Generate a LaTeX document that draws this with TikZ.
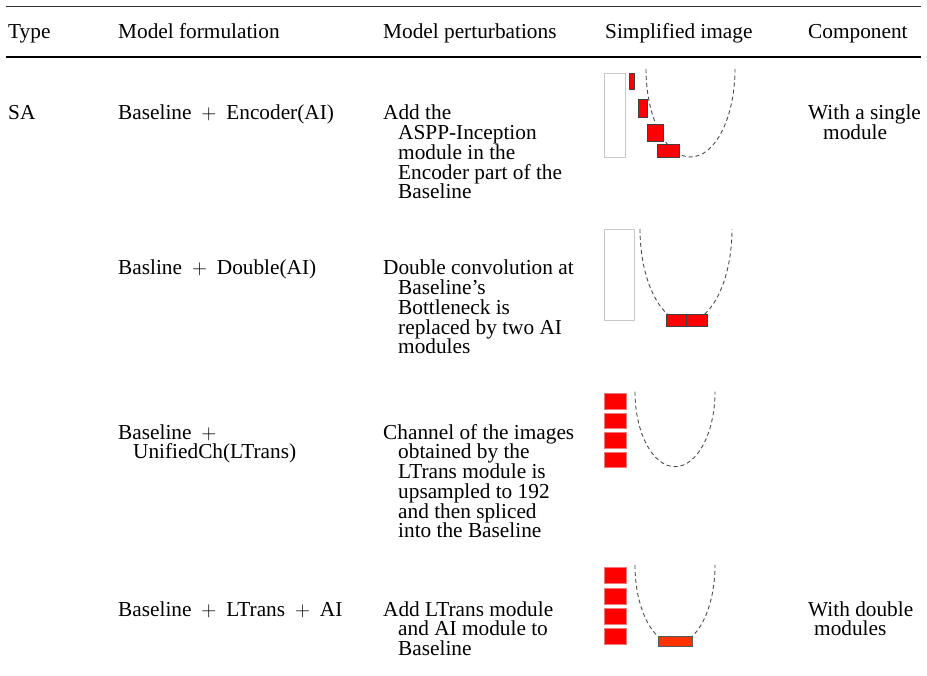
\documentclass[tikz,border=0pt]{standalone}
\usepackage{fontspec}
\setmainfont{Liberation Serif}
\definecolor{sqb}{HTML}{F07878}
\definecolor{orng}{HTML}{FF3300}
\newcommand{\ind}{\hspace*{15pt}}
\newcommand{\cellt}[1]{\vtop{\baselineskip=19.75pt\lineskiplimit=-100pt\lineskip=0pt\halign{##\hfil\cr#1\crcr}}}
\begin{document}
\begin{tikzpicture}[x=1pt,y=-1pt,
  txt/.style={anchor=base west, inner sep=0pt, font=\fontsize{21.3}{19.75}\selectfont},
  wbox/.style={fill=white, draw=black!22, line width=0.8pt},
  rbox/.style={fill=red, draw=black!75, line width=0.6pt},
  sqbox/.style={fill=red, draw=sqb, line width=0.8pt},
  obox/.style={fill=orng, draw=black!65, line width=0.8pt},
  bowl/.style={draw=black!70, dash pattern=on 4pt off 3pt, line width=0.9pt}]
\useasboundingbox (0,0) rectangle (927,676);
% rules
\draw[line width=1pt, black!80] (6,7) -- (921,7);
\draw[line width=2pt] (6,57) -- (921,57);
% header
\node[txt] (hType) at (8,39) {Type};
\node[txt] (hForm) at (118,39) {Model formulation};
\node[txt] (hPert) at (383,39) {Model perturbations};
\node[txt] (hImg)  at (605,39) {Simplified image};
\node[txt] (hComp) at (808,39) {Component};
% row 1
\node[txt] (rType) at (8,120) {SA};
\node[txt] (f1) at (118,120) {Baseline ${}+{}$ Encoder(AI)};
\node[txt] (p1) at (383,120) {\cellt{Add the\cr\ind ASPP-Inception\cr\ind module in the\cr\ind Encoder part of the\cr\ind Baseline}};
\node[txt] (c1) at (808,120) {\cellt{With a single\cr\ind module}};
% row 2
\node[txt] (f2) at (118,275) {Basline ${}+{}$ Double(AI)};
\node[txt] (p2) at (383,275) {\cellt{Double convolution at\cr\ind Baseline’s\cr\ind Bottleneck is\cr\ind replaced by two AI\cr\ind modules}};
% row 3
\node[txt] (f3) at (118,439) {\cellt{Baseline ${}+{}$\cr\ind UnifiedCh(LTrans)}};
\node[txt] (p3) at (383,439) {\cellt{Channel of the images\cr\ind obtained by the\cr\ind LTrans module is\cr\ind upsampled to 192\cr\ind and then spliced\cr\ind into the Baseline}};
% row 4
\node[txt] (f4) at (118,616) {Baseline ${}+{}$ LTrans ${}+{}$ AI};
\node[txt] (p4) at (383,616) {\cellt{Add LTrans module\cr\ind and AI module to\cr\ind Baseline}};
\node[txt] (c4) at (808,616) {\cellt{With double\cr\hspace*{6pt}modules}};
% image 1
\draw[wbox] (604,73.3) rectangle (625.7,157.3);
\draw[bowl] (646,69) arc (180:0:44.5 and 88);
\draw[rbox] (629.3,73.3) rectangle (634.3,89.3);
\draw[rbox] (638.7,99.7) rectangle (647.3,117.7);
\draw[rbox] (647,124) rectangle (663,141);
\draw[rbox] (657.7,144) rectangle (679.3,157.3);
% image 2
\draw[wbox] (604,229.3) rectangle (634,320);
\draw[bowl] (640,229) arc (180:0:46 and 93);
\draw[rbox] (666,314.3) rectangle (686.7,326.7);
\draw[rbox] (686.7,314.3) rectangle (707.3,326.7);
% image 3
\draw[bowl] (635,391.7) arc (180:0:40 and 75);
\foreach \a/\b in {393.3/409, 413.3/428.3, 432.7/448.3, 452.3/467.7}
  \draw[sqbox] (604,\a) rectangle (626.7,\b);
% image 4
\draw[bowl] (635,565) arc (180:0:40 and 79);
\foreach \a/\b in {567.3/583.3, 588.3/604, 608.3/624, 628.3/644.3}
  \draw[sqbox] (604,\a) rectangle (626.7,\b);
\draw[obox] (658.3,636) rectangle (692.3,646.7);
\end{tikzpicture}
\end{document}
